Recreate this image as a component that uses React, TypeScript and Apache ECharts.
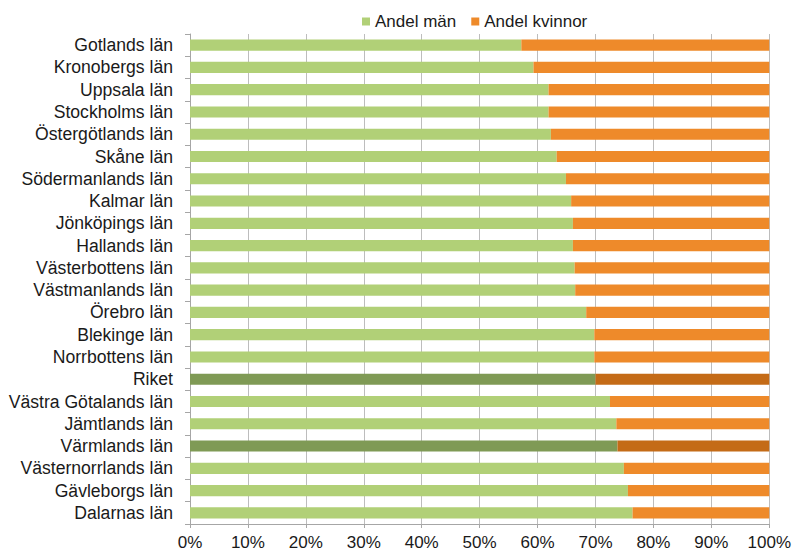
import React, { useEffect, useRef } from "react";
import * as echarts from "echarts";

const categories = [
  "Gotlands län", "Kronobergs län", "Uppsala län", "Stockholms län", "Östergötlands län",
  "Skåne län", "Södermanlands län", "Kalmar län", "Jönköpings län", "Hallands län",
  "Västerbottens län", "Västmanlands län", "Örebro län", "Blekinge län", "Norrbottens län",
  "Riket", "Västra Götalands län", "Jämtlands län", "Värmlands län", "Västernorrlands län",
  "Gävleborgs län", "Dalarnas län",
];
const andelMan = [
  57.2, 59.3, 61.9, 61.9, 62.3, 63.3, 64.9, 65.8, 66.1, 66.1, 66.4,
  66.5, 68.4, 69.8, 69.8, 70.0, 72.5, 73.6, 73.8, 74.9, 75.6, 76.4,
];
const andelKvinnor = [
  42.8, 40.7, 38.1, 38.1, 37.7, 36.7, 35.1, 34.2, 33.9, 33.9, 33.6,
  33.5, 31.6, 30.2, 30.2, 30.0, 27.5, 26.4, 26.2, 25.1, 24.4, 23.6,
];
const highlighted = ["Riket", "Värmlands län"];
const xTicks = [0, 10, 20, 30, 40, 50, 60, 70, 80, 90, 100];

const GREEN = "#b1d077";
const ORANGE = "#ee8a2a";
const DARK_GREEN = "#7f9a55";
const DARK_ORANGE = "#c46b17";

export default function App() {
  const ref = useRef<HTMLDivElement>(null);
  useEffect(() => {
    if (!ref.current) return;
    const chart = echarts.init(ref.current, null, { renderer: "svg" });
    const font = "'Liberation Sans', Arial, sans-serif";
    chart.setOption({
      animation: false,
      textStyle: { fontFamily: font },
      legend: {
        top: 8,
        left: 357,
        itemWidth: 8,
        itemHeight: 8,
        itemGap: 15,
        icon: "rect",
        textStyle: { fontSize: 17, color: "#1a1a1a", fontFamily: font },
        data: ["Andel män", "Andel kvinnor"],
      },
      grid: { left: 190, right: 23, top: 34, bottom: 30, containLabel: false },
      xAxis: {
        type: "value",
        min: 0,
        max: 100,
        interval: 10,
        axisLine: { show: true, lineStyle: { color: "#a6a6a6" } },
        axisTick: { show: true, length: 4, lineStyle: { color: "#a6a6a6" } },
        splitLine: { show: true, lineStyle: { color: "#bdbdbd", width: 1 } },
        axisLabel: {
          formatter: (v: number) => (xTicks.includes(v) ? v + "%" : ""),
          fontSize: 17,
          color: "#1a1a1a",
          margin: 10,
          fontFamily: font,
        },
      },
      yAxis: {
        type: "category",
        inverse: true,
        data: categories,
        axisLine: { show: true, lineStyle: { color: "#a6a6a6" } },
        axisTick: { show: true, length: 5, interval: 0, lineStyle: { color: "#a6a6a6" } },
        axisLabel: { fontSize: 17.6, color: "#1a1a1a", margin: 17, interval: 0, fontFamily: font },
      },
      series: [
        {
          name: "Andel män",
          type: "bar",
          stack: "total",
          barWidth: "50%",
          itemStyle: { color: GREEN },
          data: andelMan.map((v, i) => ({
            value: v,
            itemStyle: { color: highlighted.includes(categories[i]) ? DARK_GREEN : GREEN },
          })),
        },
        {
          name: "Andel kvinnor",
          type: "bar",
          stack: "total",
          barWidth: "50%",
          itemStyle: { color: ORANGE },
          data: andelKvinnor.map((v, i) => ({
            value: v,
            itemStyle: { color: highlighted.includes(categories[i]) ? DARK_ORANGE : ORANGE },
          })),
        },
      ],
    });
    return () => chart.dispose();
  }, []);
  return <div ref={ref} style={{ width: 794, height: 554, position: "absolute", left: 0, top: 0, background: "#fff" }} />;
}
